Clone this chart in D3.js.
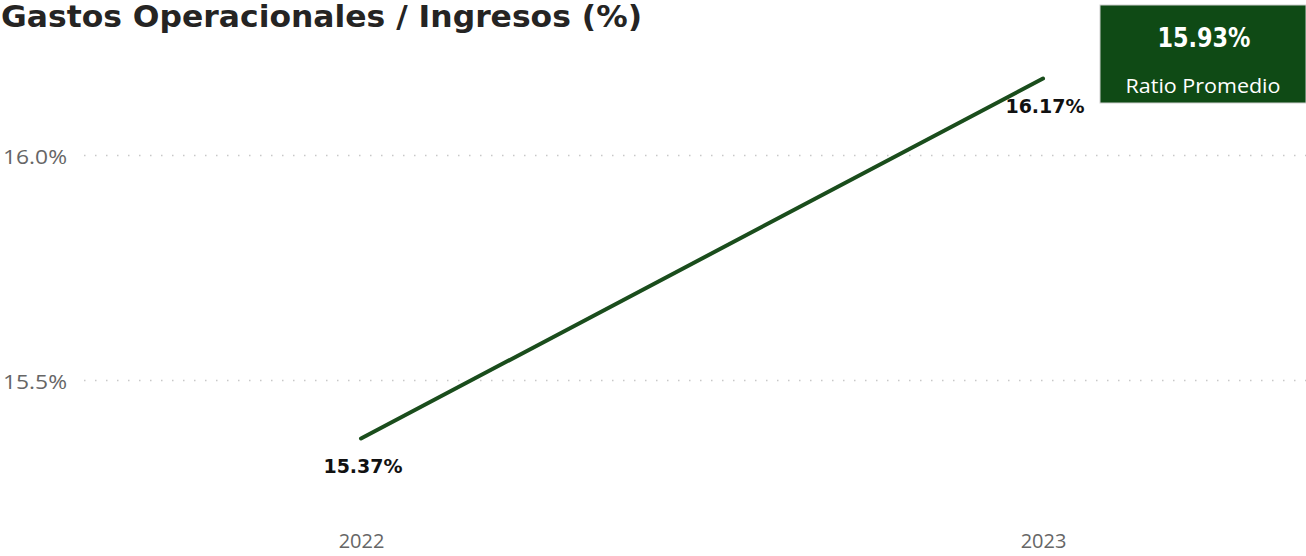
<!DOCTYPE html>
<html>
<head>
<meta charset="utf-8">
<script src="https://cdn.jsdelivr.net/npm/d3@7"></script>
<style>
  html, body { margin: 0; padding: 0; background: #fff; }
  svg { display: block; }
</style>
</head>
<body>
<svg id="chart" width="1306" height="556"></svg>
<script>
const titleText = "Gastos Operacionales / Ingresos (%)";
const years = ["2022", "2023"];
const ratios = [15.37, 16.17];
const yTicks = [15.5, 16.0];
const kpiValue = 15.93;
const kpiLabel = "Ratio Promedio";

const W = 1306, H = 556;
const svg = d3.select("#chart");

const x = d3.scalePoint().domain(years).range([361, 1043]);
const y = d3.scaleLinear().domain([15.2, 16.3]).range([515, 20]);

// Title
svg.append("text")
  .attr("x", 1).attr("y", 27)
  .attr("font-family", "'DejaVu Sans Condensed', 'DejaVu Sans', sans-serif")
  .attr("font-weight", "bold")
  .attr("font-size", 30)
  .attr("fill", "#252423")
  .attr("textLength", 641)
  .attr("lengthAdjust", "spacingAndGlyphs")
  .text(titleText);

// Gridlines + y labels
const yAxis = d3.axisLeft(y).tickValues(yTicks).tickSize(-(W - 84)).tickFormat(d => d3.format(".1f")(d) + "%");
const gy = svg.append("g").attr("transform", "translate(84,0)").call(yAxis);
gy.select(".domain").remove();
gy.selectAll(".tick line")
  .attr("stroke", "#c8c8c8")
  .attr("stroke-width", 1.5)
  .attr("stroke-dasharray", "1.5,9.5");
gy.selectAll(".tick text")
  .attr("x", -81).attr("text-anchor", "start")
  .attr("dy", "0.4em")
  .attr("font-family", "'Open Sans', 'Noto Sans', sans-serif")
  .attr("font-size", 20)
  .attr("fill", "#666666")
  .attr("textLength", 64)
  .attr("lengthAdjust", "spacingAndGlyphs");

// X axis labels
const xAxis = d3.axisBottom(x).tickSize(0);
const gx = svg.append("g").attr("transform", "translate(0,531)").call(xAxis);
gx.select(".domain").remove();
gx.selectAll(".tick text")
  .attr("dy", "0.71em")
  .attr("font-family", "'Open Sans', 'Noto Sans', sans-serif")
  .attr("font-size", 20)
  .attr("fill", "#666666");

// Line
const data = years.map((yr, i) => ({ yr, v: ratios[i] }));
svg.append("path")
  .datum(data)
  .attr("fill", "none")
  .attr("stroke", "#1a4d1c")
  .attr("stroke-width", 4)
  .attr("stroke-linecap", "round")
  .attr("d", d3.line().x(d => x(d.yr)).y(d => y(d.v)));

// Data labels
svg.selectAll(".dl")
  .data(data)
  .enter().append("text")
  .attr("class", "dl")
  .attr("x", d => x(d.yr) + 2)
  .attr("y", d => y(d.v) + 34.5)
  .attr("text-anchor", "middle")
  .attr("font-family", "'DejaVu Sans', sans-serif")
  .attr("font-weight", "bold")
  .attr("font-size", 19)
  .attr("fill", "#111")
  .text(d => d.v.toFixed(2) + "%");

// KPI card
const kpi = svg.append("g").attr("transform", "translate(1100,5)");
kpi.append("rect")
  .attr("width", 206).attr("height", 98)
  .attr("fill", "#0f4a15")
  .attr("stroke", "#d0d0d0").attr("stroke-width", 1);
kpi.append("text")
  .attr("x", 104).attr("y", 42)
  .attr("text-anchor", "middle")
  .attr("font-family", "'DejaVu Sans Condensed', 'DejaVu Sans', sans-serif")
  .attr("font-weight", "bold")
  .attr("font-size", 26)
  .attr("fill", "#ffffff")
  .attr("textLength", 93)
  .attr("lengthAdjust", "spacingAndGlyphs")
  .text(kpiValue.toFixed(2) + "%");
kpi.append("text")
  .attr("x", 103).attr("y", 88)
  .attr("text-anchor", "middle")
  .attr("font-family", "'Open Sans', 'Noto Sans', sans-serif")
  .attr("font-size", 20)
  .attr("fill", "#ffffff")
  .attr("textLength", 155)
  .attr("lengthAdjust", "spacingAndGlyphs")
  .text(kpiLabel);
</script>
</body>
</html>
